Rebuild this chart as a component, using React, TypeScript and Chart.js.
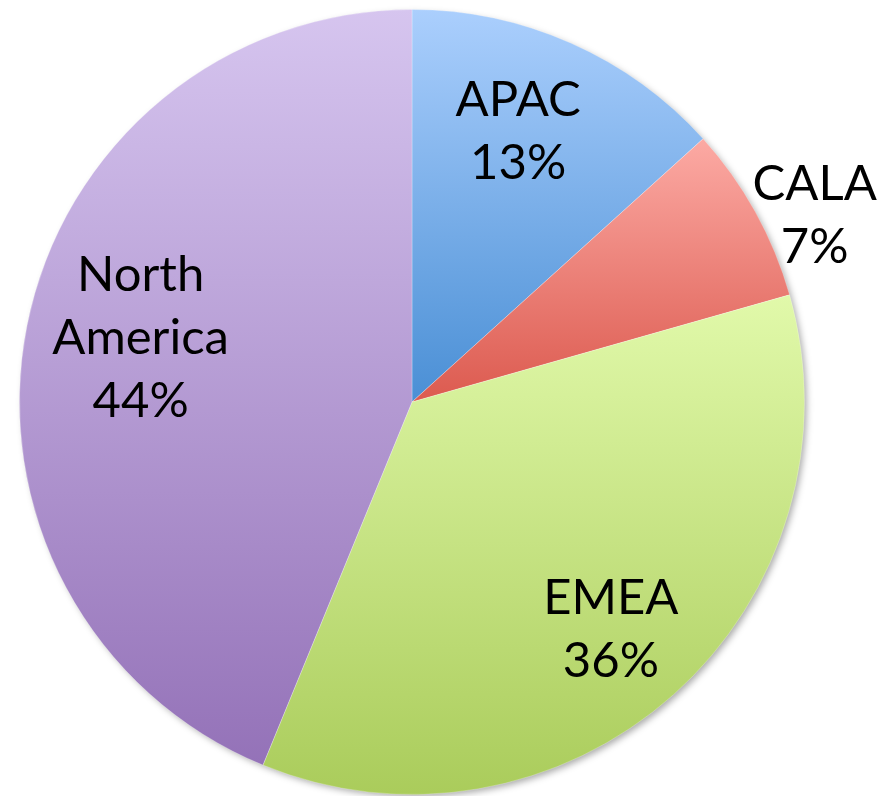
import React, { useEffect, useRef } from "react";
import { Chart, registerables } from "chart.js";

Chart.register(...registerables);

const categories = ["APAC", "CALA", "EMEA", "North America"];
const shares = [13.3, 7.3, 35.6, 43.8];
const labelLines = [["APAC", "13%"], ["CALA", "7%"], ["EMEA", "36%"], ["North", "America", "44%"]];
const gradientTops = ["#abcffd", "#fcaaa4", "#e1f9aa", "#d6c5ef"];
const gradientBottoms = ["#4a8fd5", "#dc5a4f", "#aacc5b", "#9472b8"];

function arcYRange(cy: number, r: number, a0: number, a1: number) {
  let ymin = cy, ymax = cy;
  for (const a of [a0, a1]) {
    const y = cy + r * Math.sin(a);
    ymin = Math.min(ymin, y);
    ymax = Math.max(ymax, y);
  }
  const norm = (a: number) => ((a % (2 * Math.PI)) + 2 * Math.PI) % (2 * Math.PI);
  const within = (t: number) => norm(t - norm(a0)) <= a1 - a0;
  if (within(-Math.PI / 2)) ymin = cy - r;
  if (within(Math.PI / 2)) ymax = cy + r;
  return [ymin, ymax];
}

export default function App() {
  const ref = useRef<HTMLCanvasElement>(null);
  useEffect(() => {
    document.body.style.margin = "0";
    const canvas = ref.current!;
    const labelPlugin = {
      id: "sliceLabels",
      beforeDatasetsDraw(chart: any) {
        const meta = chart.getDatasetMeta(0);
        const arc = meta.data[0];
        if (!arc) return;
        const ctx = chart.ctx;
        ctx.save();
        ctx.shadowColor = "rgba(0,0,0,0.35)";
        ctx.shadowBlur = 7;
        ctx.shadowOffsetX = 3;
        ctx.shadowOffsetY = 3;
        ctx.fillStyle = "#ffffff";
        ctx.beginPath();
        ctx.arc(arc.x, arc.y, arc.outerRadius - 1, 0, Math.PI * 2);
        ctx.fill();
        ctx.restore();
      },
      afterDatasetsDraw(chart: any) {
        const meta = chart.getDatasetMeta(0);
        const ctx = chart.ctx;
        ctx.save();
        ctx.fillStyle = "#000000";
        ctx.font = "49px Lato";
        ctx.textAlign = "center";
        ctx.textBaseline = "middle";
        const lineH = 63;
        const radial = [0.74, 1.13, 0.77, 0.71];
        const angleShift = [-2.5, 4.2, 0.6, 2.0];
        meta.data.forEach((el: any, i: number) => {
          const mid = (el.startAngle + el.endAngle) / 2 + (angleShift[i] * Math.PI) / 180;
          const rr = el.outerRadius * radial[i];
          const cx = el.x + rr * Math.cos(mid);
          const cy = el.y + rr * Math.sin(mid);
          const lines = labelLines[i];
          const y0 = cy - ((lines.length - 1) * lineH) / 2;
          lines.forEach((t, k) => ctx.fillText(t, cx, y0 + k * lineH));
        });
        ctx.restore();
      },
    };
    const chart = new Chart(canvas, {
      type: "pie",
      data: {
        labels: categories,
        datasets: [
          {
            data: shares,
            borderWidth: 1,
            borderColor: "rgba(255,255,255,0.25)",
            backgroundColor: (c: any) => {
              const ch = c.chart;
              const area = ch.chartArea;
              if (!area || c.dataIndex === undefined) return gradientTops[0];
              const cx = (area.left + area.right) / 2;
              const cy = (area.top + area.bottom) / 2;
              const r = Math.min(area.right - area.left, area.bottom - area.top) / 2;
              const data = c.dataset.data as number[];
              const total = data.reduce((a, b) => a + b, 0);
              let acc = 0;
              for (let k = 0; k < c.dataIndex; k++) acc += data[k];
              const a0 = -Math.PI / 2 + (acc / total) * 2 * Math.PI;
              const a1 = a0 + (data[c.dataIndex] / total) * 2 * Math.PI;
              const [y0, y1] = arcYRange(cy, r, a0, a1);
              const g = ch.ctx.createLinearGradient(cx, y0, cx, y1);
              g.addColorStop(0, gradientTops[c.dataIndex]);
              g.addColorStop(1, gradientBottoms[c.dataIndex]);
              return g;
            },
          },
        ],
      },
      options: {
        animation: false,
        responsive: false,
        layout: { padding: { left: 19, right: 72, top: 9, bottom: 1 } },
        plugins: { legend: { display: false }, tooltip: { enabled: false } },
      },
      plugins: [labelPlugin],
    });
    return () => chart.destroy();
  }, []);
  return <canvas ref={ref} width={877} height={796} style={{ display: "block" }} />;
}
